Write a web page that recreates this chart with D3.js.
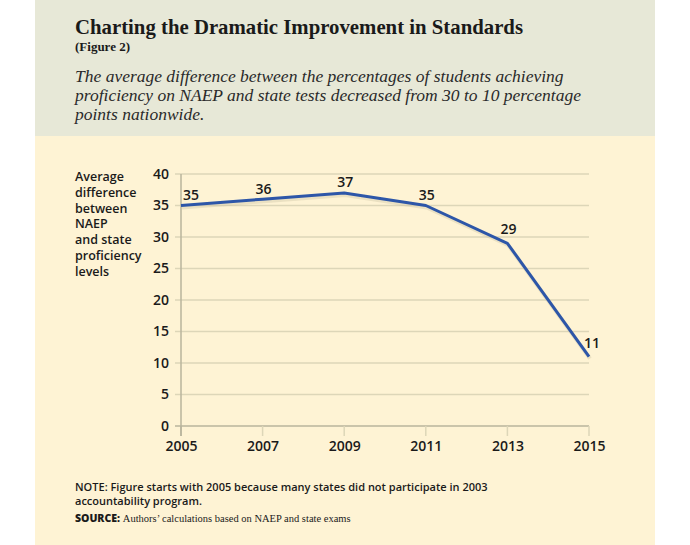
<!DOCTYPE html>
<html><head><meta charset="utf-8">
<script src="https://cdn.jsdelivr.net/npm/d3@7"></script>
<style>body{margin:0;background:#fff}svg{display:block}</style>
</head><body>
<svg id="c" width="690" height="545"></svg>
<script>
const years = [2005, 2007, 2009, 2011, 2013, 2015];
const gaps = [35, 36, 37, 35, 29, 11];
const yTicks = [0, 5, 10, 15, 20, 25, 30, 35, 40];
const title = "Charting the Dramatic Improvement in Standards";
const figNote = "(Figure 2)";
const subtitleLines = ["The average difference between the percentages of students achieving",
  "proficiency on NAEP and state tests decreased from 30 to 10 percentage",
  "points nationwide."];
const yLabelLines = ["Average", "difference", "between", "NAEP", "and state", "proficiency", "levels"];
const noteLines = ["NOTE: Figure starts with 2005 because many states did not participate in 2003",
  "accountability program."];
const sourceText = "Authors’ calculations based on NAEP and state exams";

const svg = d3.select("#c");
const sans = "'Open Sans', Lato, sans-serif";
const serif = "'Liberation Serif', 'DejaVu Serif', serif";

svg.append("rect").attr("x",35).attr("y",0).attr("width",620).attr("height",545).attr("fill","#fef3d4");
svg.append("rect").attr("x",35).attr("y",0).attr("width",620).attr("height",136).attr("fill","#e7e8d7");

svg.append("text").attr("x",75).attr("y",34).attr("font-family",serif).attr("font-weight","bold")
  .attr("font-size",22).attr("fill","#1a1a1a").attr("textLength",448).attr("lengthAdjust","spacingAndGlyphs").text(title);
svg.append("text").attr("x",75).attr("y",51).attr("font-family",serif).attr("font-weight","bold")
  .attr("font-size",13).attr("fill","#1a1a1a").text(figNote);
svg.selectAll("text.sub").data(subtitleLines).join("text").attr("class","sub")
  .attr("x",75).attr("y",(d,i)=>82+i*19).attr("font-family",serif).attr("font-style","italic")
  .attr("font-size",17.5).attr("fill","#2a2a2a").text(d=>d);

const x = d3.scaleLinear().domain([2005, 2015]).range([181, 589]);
const y = d3.scaleLinear().domain([0, 40]).range([426, 174]);

const g = svg.append("g");
g.selectAll("line.grid").data(yTicks).join("line").attr("class","grid")
  .attr("x1",175).attr("x2",x(2015)).attr("y1",d=>y(d)).attr("y2",d=>y(d))
  .attr("stroke",d=>d===0?"#b9b49c":"#ddd6b8").attr("stroke-width",1.5);
g.selectAll("line.xt").data(years).join("line").attr("class","xt")
  .attr("x1",d=>x(d)).attr("x2",d=>x(d)).attr("y1",y(0)).attr("y2",y(0)+10)
  .attr("stroke",(d,i)=>i===0?"#b9b49c":"#ddd6b8").attr("stroke-width",1.5);
g.append("line").attr("x1",x(2005)).attr("x2",x(2005)).attr("y1",y(40)).attr("y2",y(0)+10)
  .attr("stroke","#b9b49c").attr("stroke-width",1.5);

const yAxis = d3.axisLeft(y).tickValues(yTicks).tickSize(0).tickPadding(12);
const ya = svg.append("g").attr("transform",`translate(${x(2005)},0)`).call(yAxis);
ya.select(".domain").remove();
ya.selectAll("text").attr("font-family",sans).attr("font-weight",600).attr("font-size",14).attr("fill","#1a1a1a");

const xAxis = d3.axisBottom(x).tickValues(years).tickFormat(d3.format("d")).tickSize(0).tickPadding(15);
const xa = svg.append("g").attr("transform",`translate(0,${y(0)})`).call(xAxis);
xa.select(".domain").remove();
xa.selectAll("text").attr("font-family",sans).attr("font-weight",600).attr("font-size",14).attr("fill","#1a1a1a");

const line = d3.line().x((d,i)=>x(years[i])).y(d=>y(d));
svg.append("path").datum(gaps).attr("d",line).attr("fill","none").attr("stroke","#c9c0a0")
  .attr("stroke-width",4).attr("opacity",0.35).attr("transform","translate(1,2)");
svg.append("path").datum(gaps).attr("d",line).attr("fill","none").attr("stroke","#2d56a8")
  .attr("stroke-width",3).attr("stroke-linejoin","round");

svg.selectAll("text.lab").data(gaps).join("text").attr("class","lab")
  .attr("x",(d,i)=>i===0?x(years[i])+2:(i===gaps.length-1?x(years[i])+3:x(years[i])+1))
  .attr("y",(d,i)=>y(d)-(i<4?5.5:9))
  .attr("text-anchor",(d,i)=>i===0?"start":"middle")
  .attr("font-family",sans).attr("font-weight",600).attr("font-size",14).attr("fill","#1a1a1a").text(d=>d);

svg.selectAll("text.yl").data(yLabelLines).join("text").attr("class","yl")
  .attr("x",75).attr("y",(d,i)=>181+i*15.8).attr("font-family",sans).attr("font-weight",600)
  .attr("font-size",12.5).attr("fill","#1a1a1a").text(d=>d);

svg.selectAll("text.note").data(noteLines).join("text").attr("class","note")
  .attr("x",75).attr("y",(d,i)=>491+i*14).attr("font-family",sans).attr("font-weight",600)
  .attr("font-size",11).attr("fill","#1a1a1a").text(d=>d);
const src = svg.append("text").attr("x",75).attr("y",522).attr("fill","#1a1a1a");
src.append("tspan").attr("font-family",sans).attr("font-weight",800).attr("font-size",10.5).text("SOURCE: ");
src.append("tspan").attr("font-family",serif).attr("font-size",10.5).text(sourceText);
</script>
</body></html>
